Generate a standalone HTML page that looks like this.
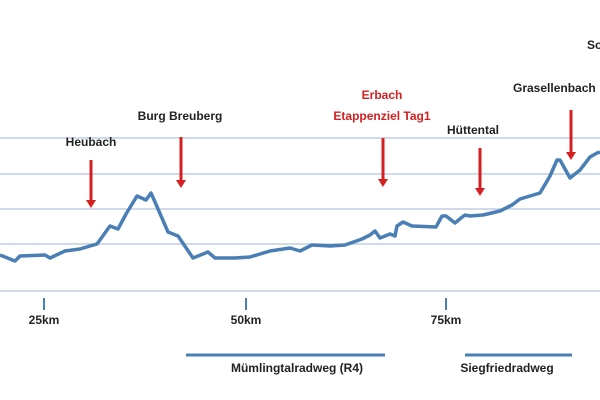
<!DOCTYPE html>
<html><head><style>body{margin:0;background:#fff}svg{display:block}text{font-family:"Liberation Sans",sans-serif;font-size:12px;font-weight:bold;fill:#222}</style></head><body>
<svg width="600" height="400" viewBox="0 0 600 400">
<g stroke="#b4c4dc" stroke-width="1.2">
<line x1="0" y1="138" x2="600" y2="138"/><line x1="0" y1="174" x2="600" y2="174"/>
<line x1="0" y1="209" x2="600" y2="209"/><line x1="0" y1="244" x2="600" y2="244"/>
<line x1="0" y1="291" x2="600" y2="291"/></g>
<g stroke="#4a7fb5" stroke-width="2"><line x1="44" y1="298" x2="44" y2="310"/><line x1="246" y1="298" x2="246" y2="310"/><line x1="446" y1="298" x2="446" y2="310"/></g>
<polyline fill="none" stroke="#4a7fb5" stroke-width="3.5" stroke-linejoin="round" points="0,255 15,261 20,256 45,255 50,258 65,251 80,249 90,246 97,244 110,226 118,229 126,214 137,196 146,200 151,193 155,202 168,232 178,236 193,258 208,252 215,258 235,258 250,257 270,251 290,248 300,251 312,245 330,246 345,245 362,239 370,235 375,231 380,238 390,234 395,236 397,226 403,222 412,226 436,227 442,216 446,216 455,223 461,218 465,215 470,216 483,215 500,211 512,205 520,199 530,196 540,193 550,176 557,160 560,160 570,178 580,170 590,157 597,153 600,152"/>
<g stroke="#d42020" stroke-width="3"><line x1="91" y1="160" x2="91" y2="202"/><line x1="181" y1="137" x2="181" y2="182"/><line x1="383" y1="138" x2="383" y2="181"/><line x1="480" y1="148" x2="480" y2="190"/><line x1="571" y1="110" x2="571" y2="154"/></g>
<g fill="#d42020"><polygon points="86,200 96,200 91,208"/><polygon points="176,180 186,180 181,188"/><polygon points="378,179 388,179 383,187"/><polygon points="475,188 485,188 480,196"/><polygon points="566,152 576,152 571,160"/></g>
<text x="91" y="146" text-anchor="middle">Heubach</text>
<text x="180" y="120" text-anchor="middle">Burg Breuberg</text>
<text x="382" y="99" text-anchor="middle" style="fill:#d42020">Erbach</text>
<text x="382" y="120" text-anchor="middle" style="fill:#d42020">Etappenziel Tag1</text>
<text x="473" y="134" text-anchor="middle">Hüttental</text>
<text x="513" y="92">Grasellenbach</text>
<text x="587" y="49">So</text>
<text x="44" y="324" text-anchor="middle">25km</text>
<text x="246" y="324" text-anchor="middle">50km</text>
<text x="446" y="324" text-anchor="middle">75km</text>
<g stroke="#4a7fb5" stroke-width="3"><line x1="186" y1="355" x2="385" y2="355"/><line x1="465" y1="355" x2="572" y2="355"/></g>
<text x="297" y="372" text-anchor="middle">Mümlingtalradweg (R4)</text>
<text x="507" y="372" text-anchor="middle">Siegfriedradweg</text>
</svg></body></html>
